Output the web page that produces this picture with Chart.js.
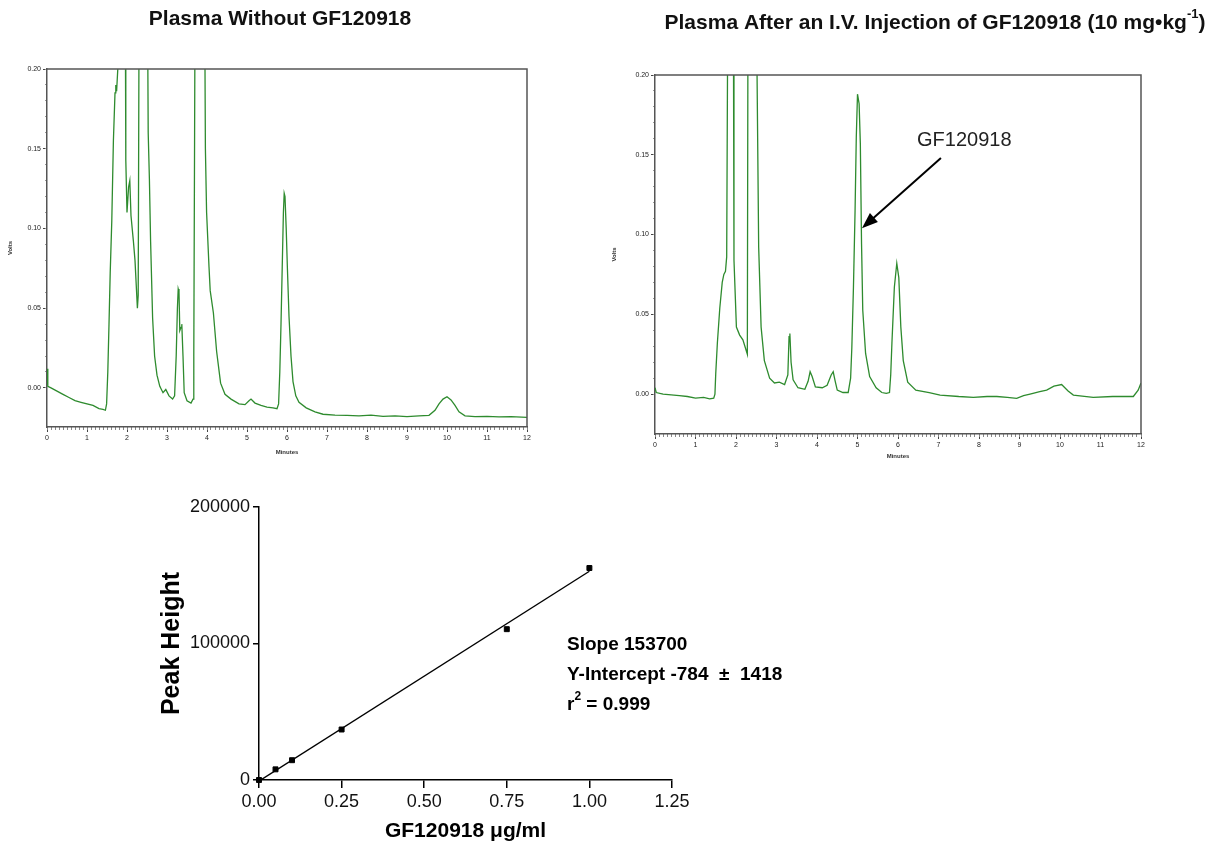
<!DOCTYPE html>
<html>
<head>
<meta charset="utf-8">
<script src="https://cdn.jsdelivr.net/npm/chart.js@4.4.1/dist/chart.umd.min.js"></script>
<style>
  body { margin: 0; background: #fff; width: 1225px; height: 856px; position: relative; overflow: hidden; }
  canvas { position: absolute; }
</style>
</head>
<body>
<canvas id="blankChart" width="580" height="470" style="left:0;top:0"></canvas>
<canvas id="doseChart" width="625" height="470" style="left:600px;top:0"></canvas>
<canvas id="calChart" width="700" height="376" style="left:140px;top:480px"></canvas>
<script>
const FONT = 'Arial, "Liberation Sans", Helvetica, sans-serif';

// plasma without GF120918 (minutes / volts)
const blankTime = [
  0, 0.02, 0.1, 0.25, 0.4, 0.55, 0.7, 0.85, 1.0, 1.15,
  1.3, 1.4, 1.46, 1.49, 1.52, 1.55, 1.58, 1.62, 1.66, 1.70,
  1.72, 1.74, 1.77, 1.80, 1.88, 1.95, 1.97, 2.00, 2.04, 2.07,
  2.10, 2.16, 2.20, 2.26, 2.28, 2.31, 2.40, 2.50, 2.53, 2.56,
  2.59, 2.64, 2.69, 2.75, 2.82, 2.90, 2.97, 3.05, 3.14, 3.19,
  3.23, 3.26, 3.28, 3.30, 3.32, 3.35, 3.37, 3.40, 3.43, 3.50,
  3.60, 3.65, 3.67, 3.69, 3.71, 3.80, 3.93, 3.96, 3.99, 4.05,
  4.08, 4.16, 4.24, 4.34, 4.45, 4.6, 4.8, 4.95, 5.05, 5.1,
  5.2, 5.35, 5.5, 5.65, 5.75, 5.79, 5.82, 5.85, 5.88, 5.91,
  5.93, 5.95, 5.98, 6.01, 6.05, 6.10, 6.15, 6.22, 6.30, 6.48,
  6.7, 6.9, 7.2, 7.5, 7.8, 8.1, 8.4, 8.7, 9.0, 9.3,
  9.55, 9.7, 9.8, 9.9, 10.0, 10.1, 10.2, 10.3, 10.45, 10.7,
  11.0, 11.3, 11.6, 12.0
];
const blankVolts = [
  0.012, 0.001, 0.000, -0.002, -0.004, -0.006, -0.008, -0.009, -0.010, -0.011,
  -0.013, -0.0135, -0.014, -0.010, 0.010, 0.040, 0.072, 0.105, 0.155, 0.185,
  0.190, 0.186, 0.200, 0.30, 0.35, 0.30, 0.143, 0.110, 0.126, 0.130,
  0.108, 0.092, 0.080, 0.050, 0.058, 0.30, 0.40, 0.30, 0.160, 0.131,
  0.092, 0.044, 0.020, 0.008, 0.001, -0.003, -0.001, -0.005, -0.007, -0.005,
  0.020, 0.050, 0.062, 0.060, 0.036, 0.038, 0.040, 0.020, -0.003, -0.008,
  -0.0095, -0.007, 0.020, 0.160, 0.30, 0.40, 0.30, 0.150, 0.110, 0.076,
  0.061, 0.047, 0.023, 0.003, -0.004, -0.007, -0.010, -0.0105, -0.008, -0.007,
  -0.0095, -0.011, -0.012, -0.0125, -0.013, -0.010, 0.010, 0.040, 0.075, 0.110,
  0.122, 0.120, 0.100, 0.075, 0.045, 0.020, 0.004, -0.005, -0.009, -0.0125,
  -0.015, -0.0165, -0.017, -0.0172, -0.0175, -0.017, -0.0178, -0.0175, -0.018, -0.0175,
  -0.0172, -0.014, -0.010, -0.007, -0.0055, -0.0075, -0.011, -0.015, -0.0175, -0.018,
  -0.0178, -0.0182, -0.018, -0.0185
];

// plasma after i.v. injection
const doseTime = [
  0, 0.03, 0.2, 0.4, 0.6, 0.8, 1.0, 1.2, 1.35, 1.45,
  1.48, 1.50, 1.54, 1.60, 1.66, 1.70, 1.74, 1.77, 1.79, 1.82,
  1.90, 1.93, 1.95, 2.01, 2.09, 2.17, 2.25, 2.28, 2.30, 2.38,
  2.48, 2.52, 2.56, 2.62, 2.70, 2.83, 2.95, 3.07, 3.20, 3.28,
  3.31, 3.33, 3.36, 3.41, 3.53, 3.70, 3.78, 3.83, 3.88, 3.96,
  4.13, 4.25, 4.35, 4.40, 4.45, 4.50, 4.64, 4.77, 4.83, 4.86,
  4.90, 4.94, 4.97, 5.00, 5.04, 5.07, 5.10, 5.13, 5.20, 5.30,
  5.46, 5.60, 5.71, 5.79, 5.82, 5.85, 5.91, 5.97, 6.02, 6.07,
  6.13, 6.24, 6.44, 6.77, 7.04, 7.50, 7.86, 8.20, 8.44, 8.70,
  8.93, 9.10, 9.26, 9.50, 9.67, 9.85, 10.04, 10.20, 10.33, 10.82,
  11.30, 11.81, 11.93, 12.0
];
const doseVolts = [
  0.004, 0.001, 0.000, -0.0005, -0.001, -0.0015, -0.0025, -0.002, -0.003, -0.0025,
  0.000, 0.013, 0.032, 0.054, 0.070, 0.075, 0.077, 0.086, 0.20, 0.35,
  0.35, 0.30, 0.084, 0.042, 0.037, 0.034, 0.0275, 0.025, 0.30, 0.40,
  0.35, 0.20, 0.092, 0.042, 0.021, 0.010, 0.007, 0.0075, 0.006, 0.012,
  0.036, 0.038, 0.020, 0.009, 0.004, 0.003, 0.008, 0.014, 0.011, 0.0045,
  0.004, 0.0055, 0.012, 0.014, 0.008, 0.0025, 0.001, 0.001, 0.010, 0.029,
  0.067, 0.115, 0.161, 0.188, 0.182, 0.157, 0.094, 0.0525, 0.0255, 0.011,
  0.004, 0.001, 0.0005, 0.001, 0.012, 0.032, 0.067, 0.082, 0.073, 0.042,
  0.021, 0.0075, 0.0025, 0.001, -0.0006, -0.0015, -0.002, -0.0015, -0.0015, -0.002,
  -0.0027, -0.001, 0.000, 0.0015, 0.0025, 0.005, 0.006, 0.002, -0.0006, -0.002,
  -0.0015, -0.0015, 0.0025, 0.007
];

const voltTicks = [0, 0.05, 0.10, 0.15, 0.20];
const minuteTicks = [0, 1, 2, 3, 4, 5, 6, 7, 8, 9, 10, 11, 12];

// calibration curve
const concentration = [0, 0.05, 0.10, 0.25, 0.75, 1.00];
const peakHeight = [0, 7800, 14500, 37000, 110500, 155300];
const fitConc = [0, 1.0];
const fitHeight = [-784, 152916];
const concTicks = [0, 0.25, 0.50, 0.75, 1.00, 1.25];
const heightTicks = [0, 100000, 200000];

// draws text pieces, some of them raised as superscripts
function drawRich(ctx, parts, cx, cy, size, weight) {
  let total = 0;
  parts.forEach(p => {
    ctx.font = weight + ' ' + (p.sup ? size * 0.62 : size) + 'px ' + FONT;
    p.w = ctx.measureText(p.text).width;
    total += p.w;
  });
  let x = cx - total / 2;
  ctx.textAlign = 'left';
  ctx.textBaseline = 'middle';
  parts.forEach(p => {
    ctx.font = weight + ' ' + (p.sup ? size * 0.62 : size) + 'px ' + FONT;
    ctx.fillText(p.text, x, p.sup ? cy - size * 0.42 : cy);
    x += p.w;
  });
}

const frame = {
  id: 'frame',
  afterDatasetsDraw(chart) {
    const {ctx, chartArea: a} = chart;
    ctx.save();
    ctx.strokeStyle = '#555';
    ctx.lineWidth = 1.5;
    ctx.beginPath();
    ctx.moveTo(a.left, a.top);
    ctx.lineTo(a.right, a.top);
    ctx.lineTo(a.right, a.bottom);
    ctx.stroke();
    ctx.restore();
  }
};

const heading = {
  id: 'heading',
  afterDraw(chart, args, opts) {
    const ctx = chart.ctx;
    ctx.save();
    ctx.fillStyle = '#111';
    drawRich(ctx, opts.parts, opts.x, opts.y, opts.size, 'bold');
    ctx.restore();
  }
};

const peakArrow = {
  id: 'peakArrow',
  afterDraw(chart, args, opts) {
    if (!opts.show) return;
    const {ctx, scales: {x, y}} = chart;
    const hx = x.getPixelForValue(5.11), hy = y.getPixelForValue(0.104);
    const tx = x.getPixelForValue(7.06), ty = y.getPixelForValue(0.148);
    ctx.save();
    ctx.strokeStyle = '#000';
    ctx.fillStyle = '#000';
    ctx.lineWidth = 2;
    const ang = Math.atan2(hy - ty, hx - tx);
    ctx.beginPath();
    ctx.moveTo(tx, ty);
    ctx.lineTo(hx - 12 * Math.cos(ang), hy - 12 * Math.sin(ang));
    ctx.stroke();
    ctx.beginPath();
    ctx.moveTo(hx, hy);
    ctx.lineTo(hx - 16 * Math.cos(ang) + 6 * Math.sin(ang), hy - 16 * Math.sin(ang) - 6 * Math.cos(ang));
    ctx.lineTo(hx - 16 * Math.cos(ang) - 6 * Math.sin(ang), hy - 16 * Math.sin(ang) + 6 * Math.cos(ang));
    ctx.closePath();
    ctx.fill();
    ctx.font = '20px ' + FONT;
    ctx.textAlign = 'left';
    ctx.textBaseline = 'middle';
    ctx.fillStyle = '#222';
    ctx.fillText('GF120918', x.getPixelForValue(6.47), y.getPixelForValue(0.159));
    ctx.restore();
  }
};

function chromatogram(id, times, volts, o) {
  const points = times.map((t, i) => ({x: t, y: volts[i]}));
  return new Chart(document.getElementById(id), {
    type: 'line',
    data: {
      datasets: [{
        data: points,
        xAxisID: 'x',
        yAxisID: 'y',
        borderColor: '#2e8b2e',
        borderWidth: 1.3,
        pointRadius: 0,
        tension: 0
      }]
    },
    options: {
      responsive: false,
      animation: false,
      layout: { padding: { left: 0, right: o.right, top: o.top, bottom: 0 } },
      plugins: {
        legend: { display: false },
        tooltip: { enabled: false },
        heading: o.heading,
        peakArrow: { show: o.arrow }
      },
      scales: {
        x: {
          type: 'linear', position: 'bottom', min: 0, max: 12, weight: 1,
          afterBuildTicks: s => { s.ticks = minuteTicks.map(v => ({value: v})); },
          afterFit: s => { s.height = o.xHeight; },
          grid: { drawOnChartArea: false, tickLength: 5, color: '#444' },
          border: { color: '#555', width: 1.5 },
          ticks: { font: { size: 7, family: FONT }, color: '#222', padding: 2, maxRotation: 0, callback: v => v },
          title: { display: true, text: 'Minutes', color: '#333',
                   font: { size: 6, weight: 'bold', family: FONT }, padding: { top: 0, bottom: o.xTitlePad } }
        },
        xMinor: {
          type: 'linear', position: 'bottom', min: 0, max: 12, weight: 0,
          afterBuildTicks: s => { const t = []; for (let k = 0; k <= 120; k++) t.push({value: k / 10}); s.ticks = t; },
          afterFit: s => { s.height = 0; },
          grid: { drawOnChartArea: false, tickLength: 3, color: '#888' },
          border: { display: false },
          ticks: { display: false }
        },
        y: {
          type: 'linear', position: 'left', min: o.yMin, max: 0.2, weight: 1,
          afterBuildTicks: s => { s.ticks = voltTicks.map(v => ({value: v})); },
          afterFit: s => { s.width = o.yWidth; },
          grid: { drawOnChartArea: false, tickLength: 4, color: '#444' },
          border: { color: '#555', width: 1.5 },
          ticks: { font: { size: 7, family: FONT }, color: '#222', padding: 2, callback: v => v.toFixed(2) },
          title: { display: true, text: 'Volts', color: '#333',
                   font: { size: 6, weight: 'bold', family: FONT }, padding: { top: o.yTitlePad, bottom: 0 } }
        },
        yMinor: {
          type: 'linear', position: 'left', min: o.yMin, max: 0.2, weight: 0,
          afterBuildTicks: s => { const t = []; for (let k = 0; k <= 20; k++) t.push({value: k / 100}); s.ticks = t; },
          afterFit: s => { s.width = 0; },
          grid: { drawOnChartArea: false, tickLength: 2, color: '#999' },
          border: { display: false },
          ticks: { display: false }
        }
      }
    },
    plugins: [frame, heading, peakArrow]
  });
}

chromatogram('blankChart', blankTime, blankVolts, {
  right: 53, top: 69, xHeight: 43, yWidth: 47, yMin: -0.0245, xTitlePad: 14, yTitlePad: 6.5, arrow: false,
  heading: { parts: [{text: 'Plasma Without GF120918'}], x: 280, y: 19, size: 21 }
});

chromatogram('doseChart', doseTime, doseVolts, {
  right: 84, top: 75, xHeight: 36, yWidth: 55, yMin: -0.025, xTitlePad: 10, yTitlePad: 11, arrow: true,
  heading: {
    parts: [
      {text: 'Plasma After an I.V. Injection of GF120918 (10 mg\u2022kg'},
      {text: '-1', sup: true},
      {text: ')'}
    ],
    x: 335, y: 23, size: 21
  }
});

const fitNote = {
  id: 'fitNote',
  afterDraw(chart) {
    const ctx = chart.ctx;
    ctx.save();
    ctx.fillStyle = '#000';
    ctx.textAlign = 'left';
    ctx.textBaseline = 'middle';
    ctx.font = 'bold 19px ' + FONT;
    ctx.fillText('Slope 153700', 427, 165);
    ctx.fillText('Y-Intercept -784 \u00A0\u00B1\u00A0 1418', 427, 195);
    ctx.fillText('r', 427, 225);
    const rw = ctx.measureText('r').width;
    ctx.font = 'bold 12px ' + FONT;
    ctx.fillText('2', 427 + rw, 217);
    const sw = ctx.measureText('2').width;
    ctx.font = 'bold 19px ' + FONT;
    ctx.fillText(' = 0.999', 427 + rw + sw, 225);
    ctx.restore();
  }
};

new Chart(document.getElementById('calChart'), {
  type: 'scatter',
  data: {
    datasets: [
      {
        data: fitConc.map((c, i) => ({x: c, y: fitHeight[i]})),
        showLine: true,
        borderColor: '#000',
        borderWidth: 1.4,
        pointRadius: 0
      },
      {
        data: concentration.map((c, i) => ({x: c, y: peakHeight[i]})),
        pointStyle: 'rect',
        pointRadius: 3.5,
        backgroundColor: '#000',
        borderColor: '#000',
        clip: false
      }
    ]
  },
  options: {
    responsive: false,
    animation: false,
    layout: { padding: { left: 0, right: 168, top: 27, bottom: 0 } },
    plugins: { legend: { display: false }, tooltip: { enabled: false } },
    scales: {
      x: {
        type: 'linear', min: 0, max: 1.25,
        afterBuildTicks: s => { s.ticks = concTicks.map(v => ({value: v})); },
        afterFit: s => { s.height = 76; },
        grid: { drawOnChartArea: false, tickLength: 8, color: '#000', lineWidth: 1.5 },
        border: { color: '#000', width: 1.5 },
        ticks: { font: { size: 18, family: FONT }, color: '#111', padding: 3, maxRotation: 0, callback: v => v.toFixed(2) },
        title: { display: true, text: 'GF120918 \u03BCg/ml', color: '#000',
                 font: { size: 21, weight: 'bold', family: FONT }, padding: { top: 0, bottom: 12 } }
      },
      y: {
        type: 'linear', min: 0, max: 200000,
        afterBuildTicks: s => { s.ticks = heightTicks.map(v => ({value: v})); },
        afterFit: s => { s.width = 119; },
        grid: { drawOnChartArea: false, tickLength: 6, color: '#000', lineWidth: 1.5 },
        border: { color: '#000', width: 1.5 },
        ticks: { font: { size: 18, family: FONT }, color: '#111', padding: 3, callback: v => String(v) },
        title: { display: true, text: 'Peak Height', color: '#000',
                 font: { size: 25, weight: 'bold', family: FONT }, padding: { top: 17, bottom: 0 } }
      }
    }
  },
  plugins: [fitNote]
});
</script>
</body>
</html>
